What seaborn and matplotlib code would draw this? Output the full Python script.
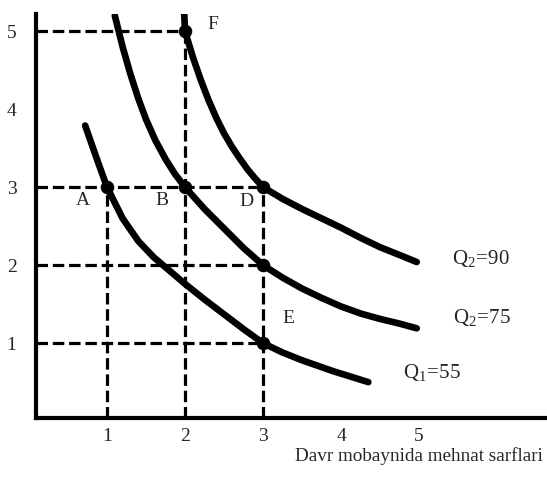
import numpy as np
import pandas as pd
import matplotlib
matplotlib.use("Agg")
import matplotlib.pyplot as plt
import seaborn as sns

# Isoquant curves: labour input (x) vs. capital input (y)
q55_x = [0.72, 0.86, 1.00, 1.20, 1.40, 1.60, 1.80, 2.00, 2.25, 2.50, 2.75, 3.00,
         3.25, 3.50, 3.90, 4.35]
q55_y = [3.79, 3.39, 3.00, 2.60, 2.31, 2.10, 1.93, 1.76, 1.56, 1.37, 1.18, 1.00,
         0.88, 0.78, 0.64, 0.50]

q75_x = [1.10, 1.20, 1.30, 1.40, 1.50, 1.62, 1.75, 1.87, 2.00, 2.25, 2.50, 2.75,
         3.00, 3.25, 3.50, 3.75, 4.00, 4.25, 4.50, 4.75, 4.97]
q75_y = [5.20, 4.80, 4.45, 4.14, 3.87, 3.60, 3.36, 3.17, 3.00, 2.72, 2.47, 2.22,
         2.00, 1.84, 1.70, 1.58, 1.47, 1.38, 1.31, 1.25, 1.19]

q90_x = [1.99, 2.00, 2.10, 2.20, 2.30, 2.40, 2.50, 2.60, 2.70, 2.80, 2.90, 3.00,
         3.25, 3.50, 3.75, 4.00, 4.25, 4.50, 4.75, 4.97]
q90_y = [5.22, 5.00, 4.67, 4.38, 4.12, 3.89, 3.69, 3.52, 3.37, 3.23, 3.11, 3.00,
         2.85, 2.72, 2.60, 2.48, 2.35, 2.23, 2.13, 2.04]

curve_names = ["Q1=55", "Q2=75", "Q2=90"]
curve_labels = [r"$\mathrm{Q}_1\!=\!55$", r"$\mathrm{Q}_2\!=\!75$", r"$\mathrm{Q}_2\!=\!90$"]
curve_label_pos = [(4.79, 0.62), (5.44, 1.33), (5.42, 2.08)]

# Marked combinations A, B, D, F, E and one unnamed
point_x = [1, 2, 3, 2, 3, 3]
point_y = [3, 3, 3, 5, 2, 1]
point_names = ["A", "B", "D", "F", "", "E"]
point_label_pos = [(0.69, 2.83), (1.71, 2.83), (2.79, 2.81), (2.36, 5.08), None, (3.32, 1.32)]

# Guide lines
h_guide_y = [5, 3, 2, 1]
h_guide_xend = [2, 3, 3, 3]
v_guide_x = [1, 2, 3]
v_guide_ytop = [3, 5, 3]

x_ticks = [1, 2, 3, 4, 5]
y_ticks = [1, 2, 3, 4, 5]
x_label = "Davr mobaynida mehnat sarflari"

sns.set_theme(style="white")
plt.rcParams["font.family"] = ["Liberation Serif", "DejaVu Serif"]
plt.rcParams["mathtext.fontset"] = "custom"
plt.rcParams["mathtext.rm"] = "Liberation Serif"
plt.rcParams["mathtext.it"] = "Liberation Serif:italic"

W, H = 547, 482
fig = plt.figure(figsize=(W / 100, H / 100), dpi=100)
ax = fig.add_axes([36 / W, (H - 418) / H, (W - 36) / W, (418 - 14) / H])

x0, x1 = 0.09, 6.64
y0, y1 = 0.04, 5.22
ax.set_xlim(x0, x1)
ax.set_ylim(y0, y1)

df = pd.concat([
    pd.DataFrame({"x": q55_x, "y": q55_y, "curve": curve_names[0]}),
    pd.DataFrame({"x": q75_x, "y": q75_y, "curve": curve_names[1]}),
    pd.DataFrame({"x": q90_x, "y": q90_y, "curve": curve_names[2]}),
])

dash_kw = dict(color="black", lw=2.3, dashes=(3.6, 1.5), dash_capstyle="butt", zorder=2)
for yv, xe in zip(h_guide_y, h_guide_xend):
    ax.plot([x0, xe], [yv, yv], **dash_kw)
for xv, yt in zip(v_guide_x, v_guide_ytop):
    ax.plot([xv, xv], [y0, yt], **dash_kw)

sns.lineplot(data=df, x="x", y="y", units="curve", estimator=None, sort=False,
             color="black", lw=4.8, ax=ax, legend=False, zorder=3,
             solid_capstyle="round", solid_joinstyle="round")

sns.scatterplot(x=point_x, y=point_y, color="black", s=95, linewidth=0, ax=ax, zorder=4)

for name, pos in zip(point_names, point_label_pos):
    if pos is not None and name:
        ax.text(pos[0], pos[1], name, fontsize=14, ha="center", va="center")

for lab, pos in zip(curve_labels, curve_label_pos):
    ax.text(pos[0], pos[1], lab, fontsize=15, ha="left", va="center")

ax.set_xticks(x_ticks)
ax.set_yticks(y_ticks)
ax.set_xticklabels([str(t) for t in x_ticks])
ax.set_yticklabels([str(t) for t in y_ticks])
ax.tick_params(axis="both", length=0, labelsize=14)
ax.tick_params(axis="x", pad=7)
ax.tick_params(axis="y", pad=14)

for s in ["top", "right"]:
    ax.spines[s].set_visible(False)
for s in ["left", "bottom"]:
    ax.spines[s].set_linewidth(3.0)
    ax.spines[s].set_color("black")
ax.set_xlabel("")
ax.set_ylabel("")

fig.text(419 / W, 1 - 456 / H, x_label, fontsize=13.8, ha="center", va="center")

fig.savefig("out.png", dpi=100)
